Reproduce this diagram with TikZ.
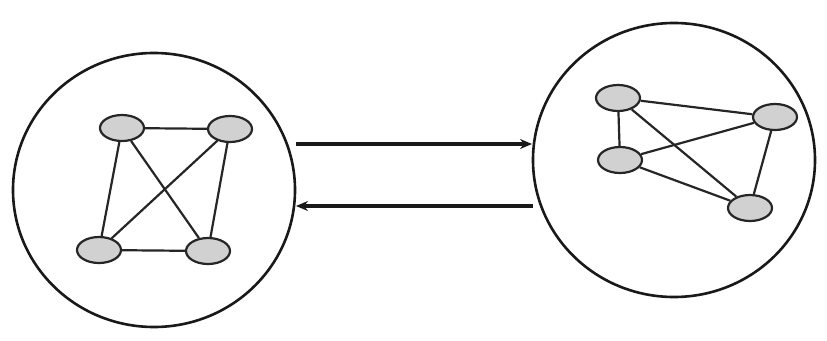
\documentclass[tikz,border=0pt]{standalone}
\usetikzlibrary{shapes.geometric,arrows.meta}
\begin{document}
\begin{tikzpicture}[x=1pt,y=-1pt,
  vtx/.style={ellipse,draw=black!85,line width=2.2pt,fill=black!18,minimum width=44pt,minimum height=26pt,inner sep=0pt},
  edge/.style={draw=black!85,line width=2.2pt},
  group/.style={ellipse,draw=black!90,line width=2.6pt,minimum width=282pt,minimum height=274pt,inner sep=0pt},
  flow/.style={draw=black!90,line width=3.2pt,-{Stealth[length=12pt,width=10pt]}}]
\useasboundingbox (0,0) rectangle (827,340);
% left cluster
\node[group] (L) at (154,190) {};
\node[vtx] (l1) at (122,128) {};
\node[vtx] (l2) at (230,129) {};
\node[vtx] (l3) at (99,250) {};
\node[vtx] (l4) at (208,251) {};
\draw[edge] (l1) -- (l2);
\draw[edge] (l1) -- (l3);
\draw[edge] (l1) -- (l4);
\draw[edge] (l2) -- (l3);
\draw[edge] (l2) -- (l4);
\draw[edge] (l3) -- (l4);
% right cluster
\node[group] (R) at (674,160) {};
\node[vtx] (r1) at (618,98) {};
\node[vtx] (r2) at (775,117) {};
\node[vtx] (r3) at (620,160) {};
\node[vtx] (r4) at (750,208) {};
\draw[edge] (r1) -- (r3);
\draw[edge] (r1) -- (r2);
\draw[edge] (r1) -- (r4);
\draw[edge] (r3) -- (r2);
\draw[edge] (r3) -- (r4);
\draw[edge] (r2) -- (r4);
% arrows
\coordinate (a1) at (296,144);
\coordinate (a2) at (532,144);
\coordinate (b1) at (533,206);
\coordinate (b2) at (296,206);
\draw[flow] (a1) -- (a2);
\draw[flow] (b1) -- (b2);
\end{tikzpicture}
\end{document}
